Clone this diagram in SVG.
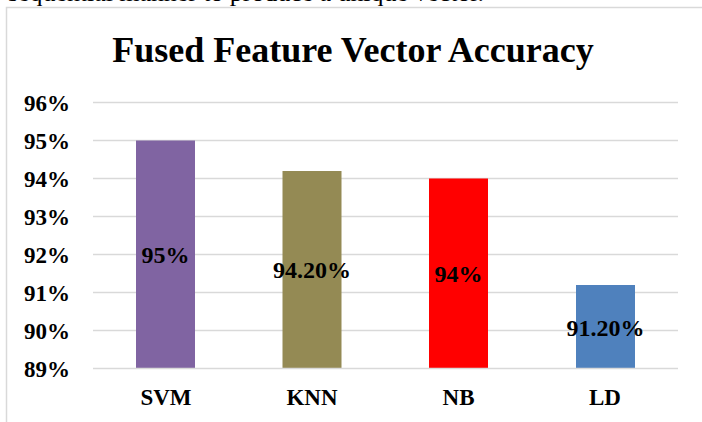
<svg xmlns="http://www.w3.org/2000/svg" width="702" height="422" viewBox="0 0 702 422">
<style>
.grid{stroke:#d9d9d9;stroke-width:1.5}
.ax{font-family:"Liberation Serif","Times New Roman",serif;font-weight:bold;font-size:23px;fill:#000}
.yl{text-anchor:end}
.cat{text-anchor:middle}
.dl{font-family:"Liberation Serif","Times New Roman",serif;font-weight:bold;font-size:24px;fill:#000;text-anchor:middle}
</style>
<rect width="702" height="422" fill="#fff"/>
<text x="8" y="1" font-family="'Liberation Serif','Times New Roman',serif" font-size="26" textLength="476" lengthAdjust="spacing" fill="#000">sequential manner to produce a unique vector.</text>
<path d="M6.5 430 V7.5 H710" fill="none" stroke="#d9d9d9" stroke-width="1.5"/>
<text x="353" y="62" font-family="'Liberation Serif','Times New Roman',serif" font-weight="bold" font-size="36" text-anchor="middle" fill="#000">Fused Feature Vector Accuracy</text>
<g id="grid">
<line class="grid" x1="93" x2="678" y1="102.5" y2="102.5"/>
<line class="grid" x1="93" x2="678" y1="140.5" y2="140.5"/>
<line class="grid" x1="93" x2="678" y1="178.5" y2="178.5"/>
<line class="grid" x1="93" x2="678" y1="216.5" y2="216.5"/>
<line class="grid" x1="93" x2="678" y1="254.5" y2="254.5"/>
<line class="grid" x1="93" x2="678" y1="292.5" y2="292.5"/>
<line class="grid" x1="93" x2="678" y1="330.5" y2="330.5"/>
</g>
<g id="yaxis">
<text class="ax yl" x="70" y="110.5">96%</text>
<text class="ax yl" x="70" y="148.5">95%</text>
<text class="ax yl" x="70" y="186.5">94%</text>
<text class="ax yl" x="70" y="224.5">93%</text>
<text class="ax yl" x="70" y="262.5">92%</text>
<text class="ax yl" x="70" y="300.5">91%</text>
<text class="ax yl" x="70" y="338.5">90%</text>
<text class="ax yl" x="70" y="376.5">89%</text>
</g>
<g id="bar-svm">
<rect x="136" y="140.5" width="59" height="228" fill="#8064a2"/>
<text class="dl" x="165.5" y="263">95%</text>
<text class="ax cat" x="166" y="405">SVM</text>
</g>
<g id="bar-knn">
<rect x="282.5" y="171" width="59" height="197.5" fill="#948a54"/>
<text class="dl" x="312" y="278">94.20%</text>
<text class="ax cat" x="312" y="405">KNN</text>
</g>
<g id="bar-nb">
<rect x="429" y="178.5" width="59" height="190" fill="#ff0000"/>
<text class="dl" x="458.5" y="282">94%</text>
<text class="ax cat" x="458.5" y="405">NB</text>
</g>
<g id="bar-ld">
<rect x="576" y="285" width="59" height="83.5" fill="#4f81bd"/>
<text class="dl" x="605.5" y="336">91.20%</text>
<text class="ax cat" x="605" y="405">LD</text>
</g>
<line class="grid" x1="93" x2="678" y1="368.5" y2="368.5"/>
</svg>
